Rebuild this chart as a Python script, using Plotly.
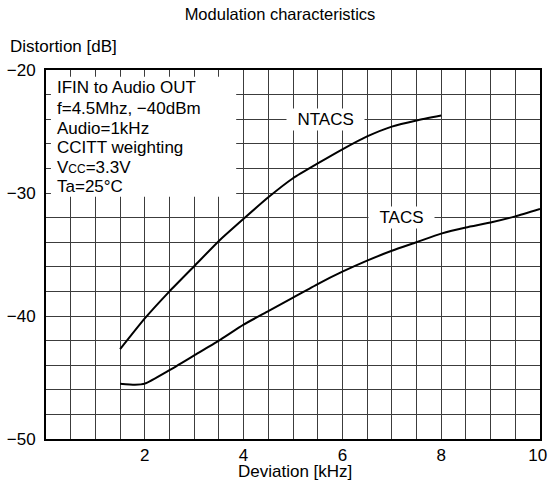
import plotly.graph_objects as go

# Data
ntacs_x = [1.5, 2, 2.5, 3, 3.5, 4, 4.5, 5, 5.5, 6, 6.5, 7, 7.5, 8]
ntacs_y = [-42.7, -40.2, -38.0, -35.95, -33.9, -32.1, -30.35, -28.8, -27.6, -26.45, -25.4, -24.6, -24.1, -23.7]

tacs_x = [1.5, 1.8, 2, 2.5, 3, 3.5, 4, 4.5, 5, 5.5, 6, 6.5, 7, 7.5, 8, 8.5, 9, 9.5, 10]
tacs_y = [-45.5, -45.58, -45.5, -44.4, -43.2, -42.0, -40.7, -39.6, -38.5, -37.4, -36.4, -35.5,
          -34.7, -34.0, -33.3, -32.8, -32.4, -31.9, -31.3]

x_ticks = [2, 4, 6, 8, 10]
x_tick_text = ["2", "4", "6", "8", "10\u00a0"]
y_ticks = [-50, -40, -30, -20]

cond_lines = ["IFIN to Audio OUT", "f=4.5Mhz, \u221240dBm", "Audio=1kHz", "CCITT weighting",
              "V<span style='font-size:12px'>CC</span>=3.3V", "Ta=25\u00b0C"]

FONT = "Liberation Sans, Arial, Helvetica, sans-serif"
GRID = "#3c3c3c"
FS = 17

fig = go.Figure()
fig.add_trace(go.Scatter(x=ntacs_x, y=ntacs_y, mode="lines", name="NTACS",
                         line=dict(color="black", width=2, shape="spline", smoothing=0.5)))
fig.add_trace(go.Scatter(x=tacs_x, y=tacs_y, mode="lines", name="TACS",
                         line=dict(color="black", width=2, shape="spline", smoothing=0.5)))

fig.update_layout(
    width=548, height=491,
    margin=dict(l=46, r=8, t=70, b=52),
    paper_bgcolor="white", plot_bgcolor="white",
    showlegend=False,
    font=dict(family=FONT, size=FS, color="black"),
    title=dict(text="Modulation characteristics", font=dict(size=16.5),
               xref="container", yref="container", x=280 / 548, y=1 - 14 / 491,
               xanchor="center", yanchor="middle"),
)

fig.update_xaxes(range=[0, 10], tickvals=x_ticks, ticktext=x_tick_text,
                 showgrid=True, gridcolor=GRID, gridwidth=1,
                 minor=dict(dtick=0.5, showgrid=True, gridcolor=GRID, gridwidth=1),
                 showline=True, linecolor="black", linewidth=2, mirror=True,
                 ticks="", zeroline=False, tickfont=dict(size=FS), ticklabelstandoff=0,
                 ticklabeloverflow="allow", automargin=False)
fig.update_yaxes(range=[-50, -20], tickvals=y_ticks, showgrid=True, gridcolor=GRID, gridwidth=1,
                 minor=dict(dtick=2, showgrid=True, gridcolor=GRID, gridwidth=1),
                 showline=True, linecolor="black", linewidth=2, mirror=True,
                 ticks="", zeroline=False, tickfont=dict(size=FS), ticklabelstandoff=5,
                 ticklabeloverflow="allow", automargin=False)

# white box behind the conditions text
fig.add_shape(type="rect", xref="x", yref="y", x0=0.1, x1=3.85, y0=-30.3, y1=-20.55,
              fillcolor="white", line=dict(width=0), layer="between")

line_y = [-21.46, -23.09, -24.72, -26.26, -27.89, -29.51]
for txt, yy in zip(cond_lines, line_y):
    fig.add_annotation(x=0.18, y=yy, xref="x", yref="y", text=txt, showarrow=False,
                       xanchor="left", yanchor="middle", font=dict(size=FS))

fig.add_annotation(x=5.65, y=-24.0, xref="x", yref="y", text="\u00a0\u00a0NTACS\u00a0\u00a0",
                   showarrow=False, bgcolor="white", borderpad=1, font=dict(size=FS))
fig.add_annotation(x=7.2, y=-32.0, xref="x", yref="y", text="\u00a0\u00a0TACS\u00a0\u00a0",
                   showarrow=False, bgcolor="white", borderpad=1, font=dict(size=FS))

fig.add_annotation(x=(8 - 46) / 494, y=(439 - 46) / 369, xref="paper", yref="paper",
                   text="Distortion [dB]", showarrow=False, xanchor="left", yanchor="middle",
                   font=dict(size=FS))
fig.add_annotation(x=(295 - 46) / 494, y=(439 - 471) / 369, xref="paper", yref="paper",
                   text="Deviation [kHz]", showarrow=False, xanchor="center", yanchor="middle",
                   font=dict(size=FS))

fig.write_html("out.html", config={"displayModeBar": False},
               post_script="document.body.style.margin='0';document.body.style.overflow='hidden';")
